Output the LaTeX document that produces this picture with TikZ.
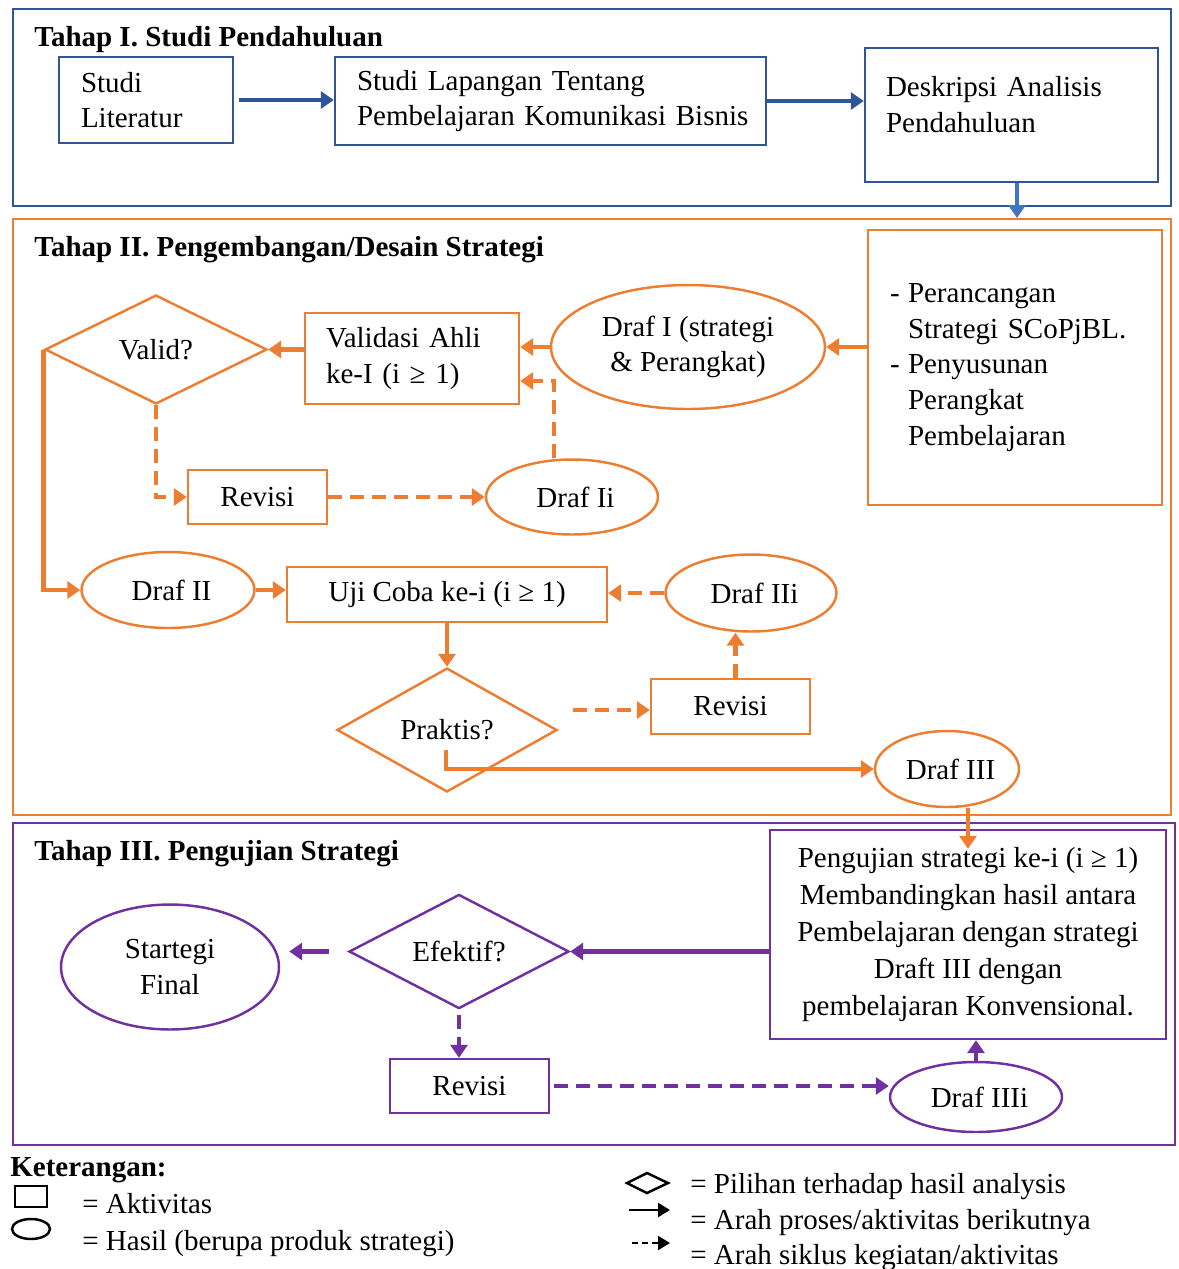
\documentclass[tikz,border=0pt]{standalone}
\usepackage{fontspec}
\setmainfont{Liberation Serif}
\usepackage{tikz}
\usetikzlibrary{calc,arrows.meta,shapes.geometric}

\definecolor{biru}{RGB}{47,85,151}
\definecolor{birumuda}{RGB}{68,114,196}
\definecolor{oranye}{RGB}{237,125,49}
\definecolor{ungu}{RGB}{112,48,160}

\tikzset{
    every node/.style = {font = \fontsize{16.5}{20.3}\selectfont, text = black},
    kotak/.style = {draw, line width = 1.4pt, rectangle, inner sep = 0pt},
    lonjong/.style = {draw, line width = 1.4pt, ellipse, inner sep = 0pt},
    pilihan/.style = {draw, line width = 1.4pt, diamond, inner sep = 0pt},
    tahap/.style = {draw, line width = 1.3pt, rectangle, inner sep = 0pt, anchor = north west},
    judul/.style = {anchor = base west, inner sep = 0pt, font = \fontsize{16.5}{20.3}\selectfont\bfseries},
    ket/.style = {anchor = base west, inner sep = 0pt},
    panah/.style = {draw, line width = 2.8pt, -{Triangle[length = 0.26cm, width = 0.34cm]}},
    siklus/.style = {panah, dash pattern = on 0.28cm off 0.16cm},
}

\begin{document}
\begin{tikzpicture}[x = 0.02cm, y = -0.02cm]
        \useasboundingbox(0,0)rectangle(1178,1269);
        % frame tiap tahap
        \node[tahap, draw = biru, minimum width = 23.16cm, minimum height = 3.94cm](t1)at(12,8){};
        \node[tahap, draw = oranye, minimum width = 23.16cm, minimum height = 11.92cm](t2)at(12,218){};
        \node[tahap, draw = ungu, minimum width = 23.24cm, minimum height = 6.44cm](t3)at(12,822){};
        \node[judul](j1)at(34,46){Tahap I. Studi Pendahuluan};
        \node[judul](j2)at(34,256){Tahap II. Pengembangan/Desain Strategi};
        \node[judul](j3)at(34,860){Tahap III. Pengujian Strategi};

        % Tahap I
        \node[kotak, draw = biru, minimum width = 3.48cm, minimum height = 1.72cm, text width = 2.6cm, inner xsep = 0.44cm, align = left](lit)at(146,100){Studi\\Literatur};
        \node[kotak, draw = biru, minimum width = 8.62cm, minimum height = 1.76cm, text width = 7.74cm, inner xsep = 0.44cm, align = left](lap)at(550.5,101){\mbox{Studi Lapangan Tentang}\\\mbox{Pembelajaran Komunikasi Bisnis}};
        \node[kotak, draw = biru, minimum width = 5.86cm, minimum height = 2.68cm, text width = 5.02cm, inner xsep = 0.42cm, align = left](desk)at(1011.5,115){Deskripsi Analisis\\Pendahuluan\\[-0.3cm]\mbox{}};
        \path[panah, biru]([xshift = 0.1cm]lit.east)to(lit.east -| lap.west);
        \path[panah, biru](lap.east)to(lap.east -| desk.west);
        \path[panah, birumuda]([xshift = 0.11cm]desk.south)to([xshift = 0.11cm]desk.south |- t2.north);

        % Tahap II
        \node[kotak, draw = oranye, minimum width = 5.88cm, minimum height = 5.5cm, text width = 5.0cm, inner xsep = 0.44cm, align = left](per)at(1015,367.5)
            {\makebox[0.36cm][l]{-}Perancangan\\
             \hspace*{0.36cm}Strategi SCoPjBL.\\
             \makebox[0.36cm][l]{-}Penyusunan\\
             \hspace*{0.36cm}Perangkat\\
             \hspace*{0.36cm}Pembelajaran};
        \node[lonjong, draw = oranye, minimum width = 5.48cm, minimum height = 2.48cm, align = center](d1)at(688,347){Draf I (strategi\\\& Perangkat)};
        \node[kotak, draw = oranye, minimum width = 4.28cm, minimum height = 1.82cm, text width = 3.44cm, inner xsep = 0.42cm, align = left](val)at(412,358.5){Validasi Ahli\\ke-I (i ≥ 1)};
        \node[pilihan, draw = oranye, minimum width = 4.44cm, minimum height = 2.18cm](valid)at(156,349.5){Valid?};
        \node[kotak, draw = oranye, minimum width = 2.78cm, minimum height = 1.08cm](rev1)at(257.5,497){Revisi};
        \node[lonjong, draw = oranye, minimum width = 3.44cm, minimum height = 1.5cm](dii)at(572,497){\hspace*{0.14cm}Draf Ii};
        \node[lonjong, draw = oranye, minimum width = 3.46cm, minimum height = 1.52cm](d2)at(168,590){\hspace*{0.14cm}Draf II};
        \node[kotak, draw = oranye, minimum width = 6.4cm, minimum height = 1.1cm](uji)at(447,594.5){Uji Coba ke-i (i ≥ 1)};
        \node[lonjong, draw = oranye, minimum width = 3.42cm, minimum height = 1.54cm](d2i)at(751,593){\hspace*{0.14cm}Draf IIi};
        \node[pilihan, draw = oranye, minimum width = 4.4cm, minimum height = 2.48cm](prak)at(447,730){Praktis?};
        \node[kotak, draw = oranye, minimum width = 3.18cm, minimum height = 1.1cm](rev2)at(730.5,706.5){Revisi};
        \node[lonjong, draw = oranye, minimum width = 2.88cm, minimum height = 1.52cm](d3)at(947,769){\hspace*{0.14cm}Draf III};
        \coordinate(ditop)at($(dii.north)+(-18,0)$);
        \coordinate(pk)at($(prak.east)+(15,-20)$);
        \coordinate(pb)at($(prak.center)+(-1,20)$);
        \path[panah, oranye](per.west |- d1.east)to(d1.east);
        \path[panah, oranye](d1.west)to(d1.west -| val.east);
        \path[panah, oranye](val.west |- valid.east)to(valid.east);
        \path[siklus, oranye](valid.south)|-(rev1.west);
        \path[siklus, oranye](rev1.east)to(rev1.east -| dii.west);
        \path[siklus, oranye](ditop)|-([yshift = -0.45cm]val.east);
        \path[panah, oranye](valid.west)|-(d2.west);
        \path[panah, oranye](d2.east)to(d2.east -| uji.west);
        \path[siklus, oranye](d2i.west)to(d2i.west -| uji.east);
        \path[panah, oranye](uji.south)to(prak.north);
        \path[siklus, oranye](pk)to(pk -| rev2.west);
        \path[siklus, oranye]([xshift = 0.1cm]rev2.north)to([xshift = 0.1cm]rev2.north |- d2i.south);
        \path[panah, oranye](pb)|-(d3.west);

        % Tahap III
        \node[kotak, draw = ungu, minimum width = 7.92cm, minimum height = 4.18cm, align = center, font = \fontsize{16.5}{21}\selectfont](peng)at(968,934.5)
            {Pengujian strategi ke-i (i ≥ 1)\\Membandingkan hasil antara\\Pembelajaran dengan strategi\\Draft III dengan\\pembelajaran Konvensional.};
        \node[pilihan, draw = ungu, minimum width = 4.4cm, minimum height = 2.14cm](efek)at(459,951.5){Efektif?};
        \node[lonjong, draw = ungu, minimum width = 4.36cm, minimum height = 2.5cm, align = center](fin)at(170,967){Startegi\\Final};
        \node[kotak, draw = ungu, minimum width = 3.18cm, minimum height = 1.08cm](rev3)at(469.5,1086){Revisi};
        \node[lonjong, draw = ungu, minimum width = 3.44cm, minimum height = 1.4cm](d3i)at(976,1097){\hspace*{0.14cm}Draf IIIi};
        \path[panah, oranye](peng.north |- d3.south)to([yshift = -0.4cm]peng.north);
        \path[panah, ungu](peng.west |- efek.east)to(efek.east);
        \path[panah, ungu, shorten <= 0.38cm, shorten >= 0.18cm](efek.west)to(efek.west -| fin.east);
        \path[siklus, ungu, shorten <= 0.1cm](efek.south)to(efek.south |- rev3.north);
        \path[siklus, ungu]([xshift = 0.08cm]rev3.east)to(rev3.east -| d3i.west);
        \path[panah, ungu](d3i.north)to(d3i.north |- peng.south);

        % keterangan
        \node[judul](ket)at(10,1176){Keterangan:};
        \path[draw, line width = 1.2pt](15,1186)rectangle(47,1207);
        \path[draw, line width = 1.4pt](31,1229)ellipse[x radius = 0.38cm, y radius = 0.2cm];
        \path[draw, line width = 1.4pt](627,1183)--(647,1173)--(668,1183)--(647,1193)--cycle;
        \path[draw, line width = 1.3pt, -{Triangle[length = 0.24cm, width = 0.28cm]}](629,1210)to(670,1210);
        \path[draw, line width = 1.3pt, dash pattern = on 0.12cm off 0.08cm, -{Triangle[length = 0.24cm, width = 0.28cm]}](632,1243)to(670,1243);
        \node[ket](ka)at(82,1213){= Aktivitas};
        \node[ket](kh)at(82,1250){= Hasil (berupa produk strategi)};
        \node[ket](kp)at(690,1193){= Pilihan terhadap hasil analysis};
        \node[ket](kr)at(690,1229){= Arah proses/aktivitas berikutnya};
        \node[ket](ks)at(690,1264){= Arah siklus kegiatan/aktivitas};
    \end{tikzpicture}
\end{document}
